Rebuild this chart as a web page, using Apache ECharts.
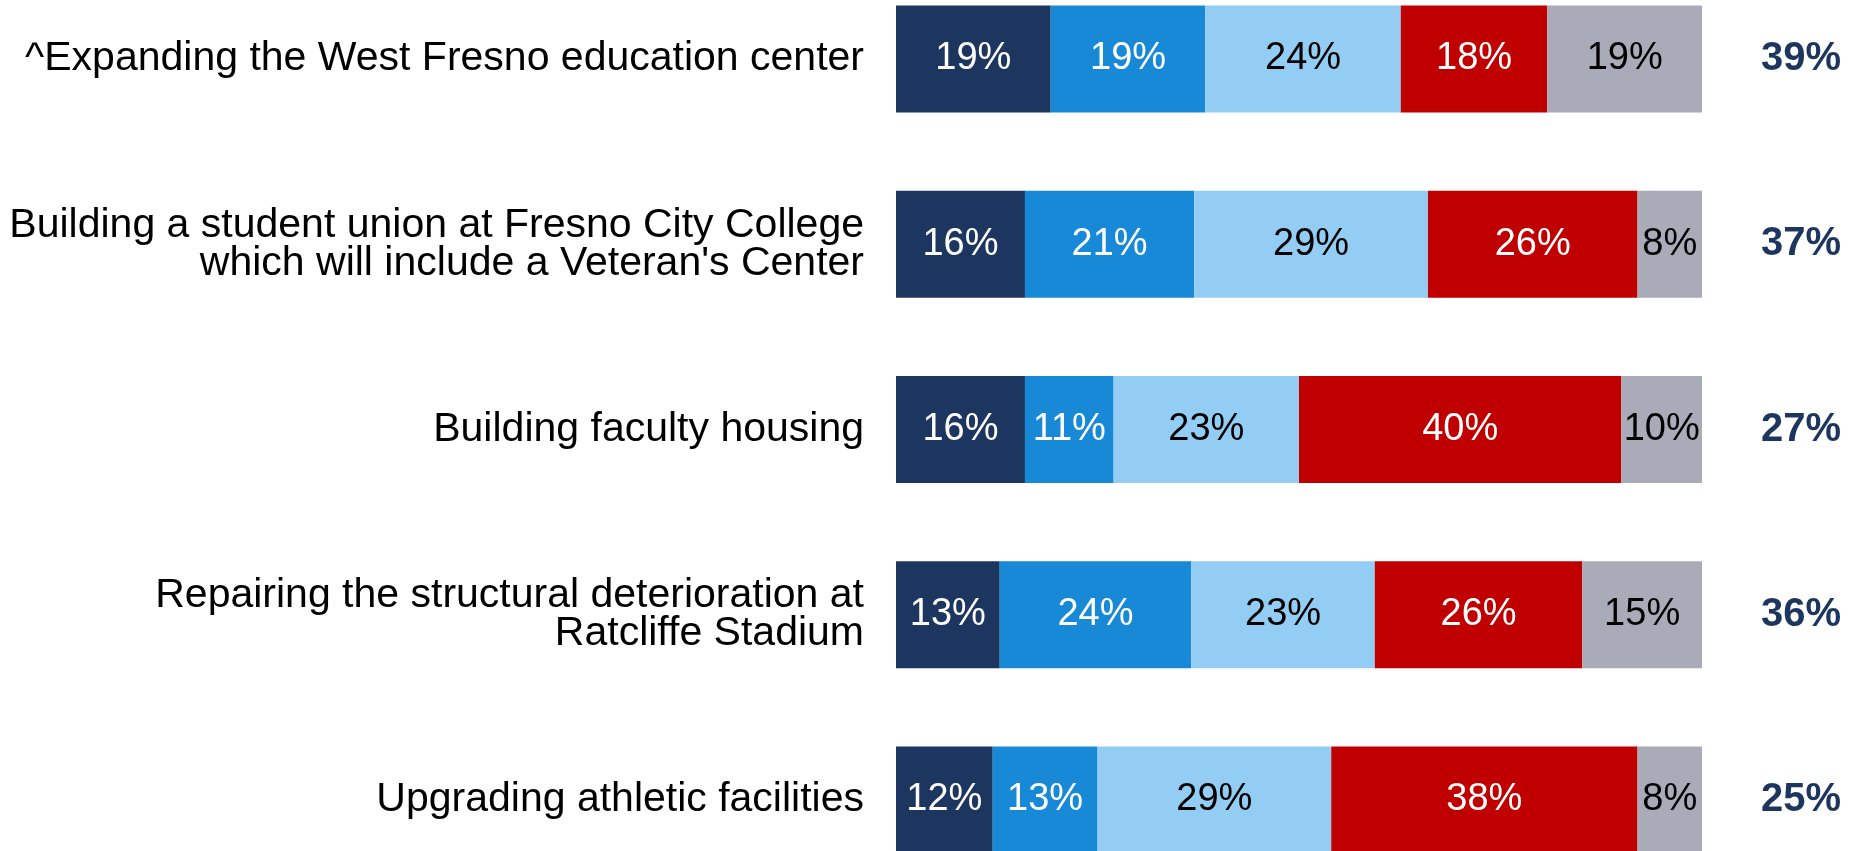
<!DOCTYPE html>
<html>
<head>
<meta charset="utf-8">
<script src="https://cdn.jsdelivr.net/npm/echarts@6/dist/echarts.min.js"></script>
<style>
  html, body { margin: 0; padding: 0; background: #fff; }
  #chart { width: 1861px; height: 851px; }
</style>
</head>
<body>
<div id="chart"></div>
<script>
// rows, top to bottom
var categories = [
  '^Expanding the West Fresno education center',
  'Building a student union at Fresno City College\nwhich will include a Veteran\'s Center',
  'Building faculty housing',
  'Repairing the structural deterioration at\nRatcliffe Stadium',
  'Upgrading athletic facilities'
]
var segA = [19, 16, 16, 13, 12]
var segB = [19, 21, 11, 24, 13]
var segC = [24, 29, 23, 23, 29]
var segD = [18, 26, 40, 26, 38]
var segE = [19, 8, 10, 15, 8]
var totals = ['39%', '37%', '27%', '36%', '25%']

var segments = [segA, segB, segC, segD, segE]
var colors = ['#1d365f', '#1789d6', '#93cdf3', '#c00000', '#a9abb8']
var labelColors = ['#fff', '#fff', '#000', '#fff', '#000']
var font = "'Liberation Sans', sans-serif"

// each row fills the full bar width
var rowSums = categories.map(function (c, i) {
  return segments.reduce(function (s, arr) { return s + arr[i] }, 0)
})

var series = segments.map(function (arr, k) {
  return {
    type: 'bar',
    stack: 'all',
    barWidth: 107,
    itemStyle: { color: colors[k] },
    label: {
      show: true,
      position: 'inside',
      color: labelColors[k],
      fontFamily: font,
      fontSize: 38,
      formatter: function (p) { return arr[p.dataIndex] + '%' }
    },
    data: arr.map(function (v, i) { return v / rowSums[i] * 100 })
  }
})

var chart = echarts.init(document.getElementById('chart'))
chart.setOption({
  animation: false,
  grid: { left: 896, right: 159, top: 59, bottom: 51 },
  xAxis: { type: 'value', min: 0, max: 100, show: false },
  yAxis: [{
    type: 'category',
    inverse: true,
    boundaryGap: false,
    data: categories,
    axisLine: { show: false },
    axisTick: { show: false },
    axisLabel: {
      margin: 32,
      color: '#000',
      fontFamily: font,
      fontSize: 41,
      lineHeight: 38,
      align: 'right'
    }
  }, {
    type: 'category',
    inverse: true,
    boundaryGap: false,
    position: 'right',
    data: totals,
    axisLine: { show: false },
    axisTick: { show: false },
    axisLabel: {
      margin: 59,
      color: '#1d365f',
      fontFamily: font,
      fontWeight: 'bold',
      fontSize: 40
    }
  }],
  series: series
})
</script>
</body>
</html>
